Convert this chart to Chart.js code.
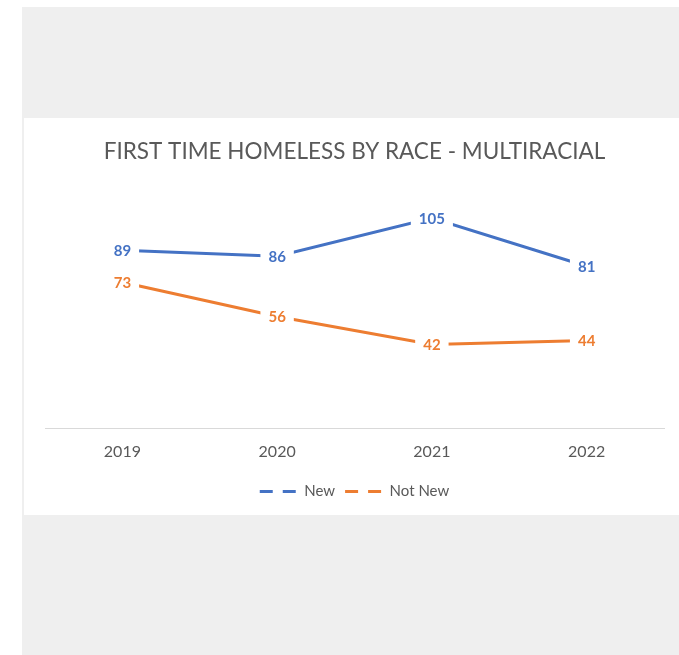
<!DOCTYPE html>
<html>
<head>
<meta charset="utf-8">
<script src="https://cdn.jsdelivr.net/npm/chart.js@4"></script>
<style>
  html, body { margin: 0; padding: 0; background: #fff; }
  #frame {
    position: absolute; left: 22px; top: 7px; width: 657px; height: 648px;
    background: #efefef;
  }
  #card {
    position: absolute; left: 24px; top: 118px; width: 655px; height: 397px;
    background: #fff;
  }
</style>
</head>
<body>
<div id="frame"></div>
<div id="card"><canvas id="chart" width="655" height="397"></canvas></div>
<script>
const years = ["2019", "2020", "2021", "2022"];
const newCounts = [89, 86, 105, 81];
const notNewCounts = [73, 56, 42, 44];

const FONT = "Lato, 'Open Sans', sans-serif";
const GREY = "#595959";

// labels sit on top of each point, with a white patch that cuts the line
const pointLabels = {
  id: "pointLabels",
  afterDatasetsDraw(chart) {
    const ctx = chart.ctx;
    ctx.save();
    ctx.font = "bold 15px " + FONT;
    ctx.textAlign = "center";
    ctx.textBaseline = "middle";
    chart.data.datasets.forEach((ds, i) => {
      chart.getDatasetMeta(i).data.forEach((pt, j) => {
        const text = String(ds.data[j]);
        const w = ctx.measureText(text).width;
        ctx.fillStyle = "#fff";
        ctx.fillRect(pt.x - w / 2 - 8, pt.y - 9, w + 16, 18);
        ctx.fillStyle = ds.borderColor;
        ctx.fillText(text, pt.x, pt.y + 1);
      });
    });
    ctx.restore();
  }
};

new Chart(document.getElementById("chart"), {
  type: "line",
  data: {
    labels: years,
    datasets: [
      { label: "New", data: newCounts, borderColor: "#4472C4", backgroundColor: "#4472C4" },
      { label: "Not New", data: notNewCounts, borderColor: "#ED7D31", backgroundColor: "#ED7D31" }
    ]
  },
  options: {
    responsive: false,
    animation: false,
    events: [],
    elements: {
      line: { borderWidth: 3, tension: 0, borderCapStyle: "round" },
      point: { radius: 0 }
    },
    layout: { padding: { left: 21, right: 15, top: 0, bottom: 6 } },
    scales: {
      x: {
        offset: true,
        grid: { display: false, drawTicks: false },
        border: { color: "#d9d9d9", width: 1 },
        ticks: { color: GREY, font: { family: FONT, size: 16 }, padding: 13 }
      },
      y: { display: false, min: 0, max: 120 }
    },
    plugins: {
      title: {
        display: true,
        text: "FIRST TIME HOMELESS BY RACE - MULTIRACIAL",
        color: GREY,
        font: { family: FONT, size: 22.5, weight: "normal" },
        padding: { top: 20, bottom: 23 }
      },
      legend: {
        position: "bottom",
        labels: {
          color: GREY,
          font: { family: FONT, size: 15 },
          usePointStyle: true,
          pointStyleWidth: 37,
          boxHeight: 3,
          padding: 10,
          generateLabels(chart) {
            return chart.data.datasets.map((ds, i) => ({
              text: ds.label,
              fontColor: GREY,
              strokeStyle: ds.borderColor,
              fillStyle: ds.borderColor,
              lineWidth: 3,
              lineDash: [13, 10],
              pointStyle: "line",
              datasetIndex: i
            }));
          }
        }
      },
      tooltip: { enabled: false }
    }
  },
  plugins: [pointLabels]
});
</script>
</body>
</html>
